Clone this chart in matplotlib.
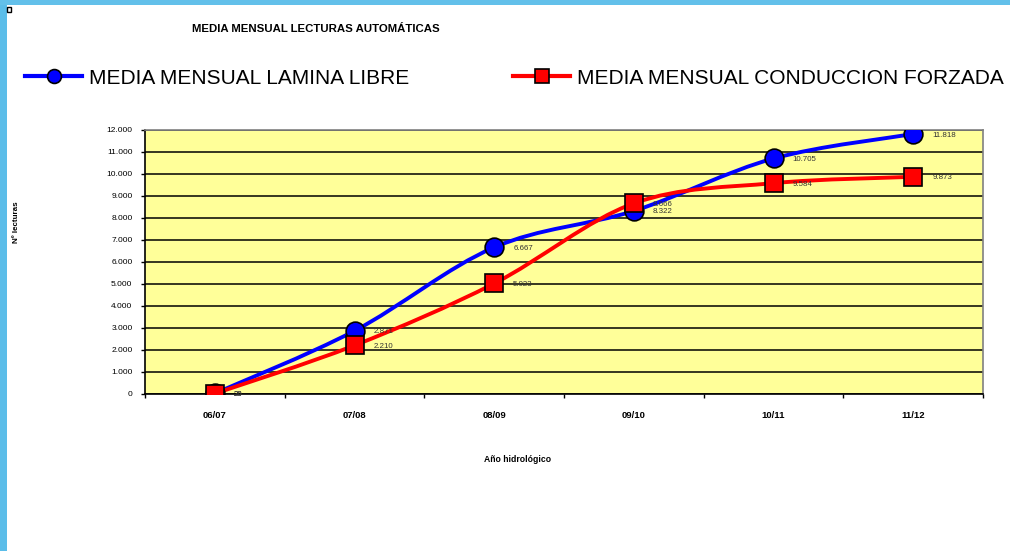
import numpy as np
import matplotlib
matplotlib.use('Agg')
import matplotlib.pyplot as plt
from matplotlib.path import Path
from matplotlib.patches import PathPatch, Rectangle
from matplotlib.lines import Line2D
from matplotlib.ticker import FixedLocator, FuncFormatter

# Data
years = ['06/07', '07/08', '08/09', '09/10', '10/11', '11/12']
lamina_libre = [26, 2871, 6667, 8322, 10705, 11818]
conduccion_forzada = [20, 2210, 5023, 8666, 9584, 9873]
labels_libre = ['26', '2.871', '6.667', '8.322', '10.705', '11.818']
labels_forzada = ['20', '2.210', '5.023', '8.666', '9.584', '9.873']

plt.rcParams['font.family'] = ['Liberation Sans', 'DejaVu Sans']

fig = plt.figure(figsize=(10.10, 5.51), dpi=100, facecolor='white')

# blue frame strips of the original slide
fig.patches.append(Rectangle((0, 0), 7/1010, 1, transform=fig.transFigure,
                             facecolor='#5bbde9', edgecolor='none', zorder=0))
fig.patches.append(Rectangle((0, 1-5/551), 1, 5/551, transform=fig.transFigure,
                             facecolor='#63c0ea', edgecolor='none', zorder=0))
fig.patches.append(Rectangle((7/1010, 1-12/551), 4/1010, 5/551, transform=fig.transFigure,
                             facecolor='white', edgecolor='black', linewidth=1.0, zorder=1))

ax = fig.add_axes([145/1010, 1-394/551, 838/1010, 264/551])
ax.set_facecolor('#ffff99')


def smooth_path(xs, ys, t=1/6.0):
    # Excel style smoothed line as bezier segments
    pts = np.column_stack([xs, ys]).astype(float)
    ext = np.vstack([pts[0], pts, pts[-1]])
    verts = [pts[0]]
    codes = [Path.MOVETO]
    for i in range(len(pts)-1):
        p0, p1, p2, p3 = ext[i], ext[i+1], ext[i+2], ext[i+3]
        c1 = p1 + (p2 - p0) * t
        c2 = p2 - (p3 - p1) * t
        verts += [c1, c2, p2]
        codes += [Path.CURVE4]*3
    return Path(verts, codes)


xs = np.arange(len(years))
for vals, col, mk, lab in [(lamina_libre, '#0000ff', 'o', labels_libre),
                           (conduccion_forzada, '#ff0000', 's', labels_forzada)]:
    ax.add_patch(PathPatch(smooth_path(xs, vals), facecolor='none',
                           edgecolor=col, linewidth=2.8, zorder=3))
    ax.plot(xs, vals, linestyle='none', marker=mk, markersize=13.5,
            markerfacecolor=col, markeredgecolor='black', markeredgewidth=1.2, zorder=4)
    for x, v, s in zip(xs, vals, lab):
        ax.annotate(s, (x, v), xytext=(19, -1), textcoords='offset pixels',
                    fontsize=5.7, color='#333333', va='center', ha='left', zorder=5)

ax.set_xlim(-0.5, 5.5)
ax.set_ylim(0, 12000)
ax.yaxis.set_major_locator(FixedLocator(np.arange(0, 12001, 1000)))
ax.yaxis.set_major_formatter(FuncFormatter(lambda v, p: '{:,.0f}'.format(v).replace(',', '.')))
ax.set_xticks(xs)
ax.set_xticklabels(years, fontsize=6.8, fontweight='bold')
ax.set_xticks(np.arange(-0.5, 5.6, 1), minor=True)
ax.tick_params(axis='x', which='major', length=0, pad=12)
ax.tick_params(axis='x', which='minor', length=3, width=1, direction='out')
ax.tick_params(axis='y', labelsize=6, length=3, width=1, direction='out', pad=6)
ax.grid(axis='y', color='black', linewidth=1.1)
ax.set_axisbelow(True)
for side in ['top', 'right']:
    ax.spines[side].set_color('#808080')
    ax.spines[side].set_linewidth(1.2)
for side in ['left', 'bottom']:
    ax.spines[side].set_color('black')
    ax.spines[side].set_linewidth(1.2)

ax.set_xlabel('Año hidrológico', fontsize=6.2, fontweight='bold')
ax.xaxis.set_label_coords((518-145)/838, -(459-394)/264)
ax.set_ylabel('Nº lecturas', fontsize=5.8, fontweight='bold')
ax.yaxis.set_label_coords(-(145-16)/838, (394-222)/264)
ax.xaxis.label.set_va('center')
ax.yaxis.label.set_va('center')

fig.text(316/1010, 1-29/551, 'MEDIA MENSUAL LECTURAS AUTOMÁTICAS', fontsize=8.2,
         fontweight='bold', ha='center', va='center')

# legend
h1 = Line2D([], [], color='#0000ff', linewidth=3, marker='o', markersize=10,
            markerfacecolor='#0000ff', markeredgecolor='black', markeredgewidth=1.2)
h2 = Line2D([], [], color='#ff0000', linewidth=3, marker='s', markersize=10,
            markerfacecolor='#ff0000', markeredgecolor='black', markeredgewidth=1.2)
for h, txt, x0 in [(h1, 'MEDIA MENSUAL LAMINA LIBRE', 25),
                   (h2, 'MEDIA MENSUAL CONDUCCION FORZADA', 513)]:
    fig.legend([h], [txt], loc='center left', bbox_to_anchor=(x0/1010, 1-78/551),
               frameon=False, borderpad=0, borderaxespad=0, handlelength=2.75,
               handletextpad=0.3, prop={'size': 15, 'family': 'Liberation Sans'})

fig.savefig('out.png', dpi=100, facecolor='white')
